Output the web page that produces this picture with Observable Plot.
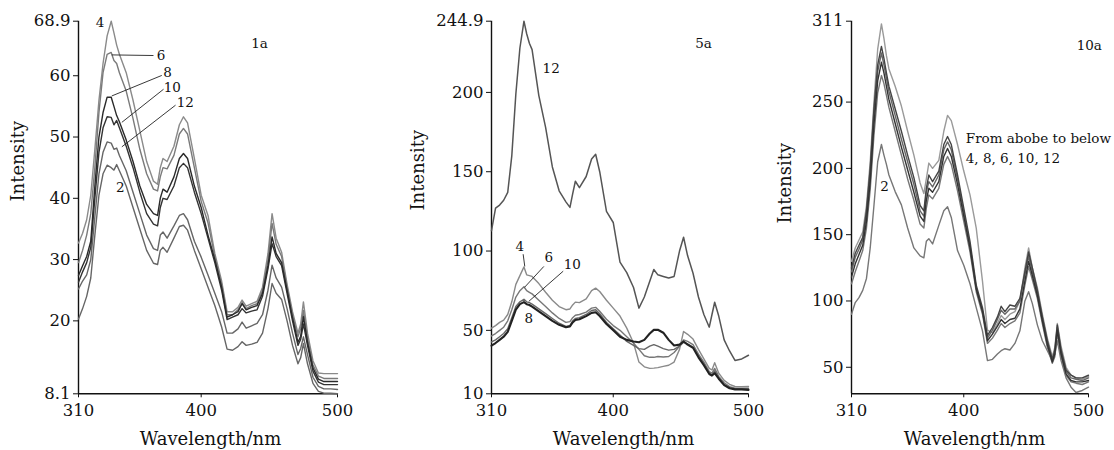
<!DOCTYPE html>
<html><head><meta charset="utf-8">
<script src="https://cdn.jsdelivr.net/npm/d3@7"></script>
<script src="https://cdn.jsdelivr.net/npm/@observablehq/plot@0.6"></script>
<style>
body{margin:0;background:#fff;}
#wrap{position:relative;width:1114px;height:450px;overflow:hidden;background:#fff;}
#wrap svg{position:absolute;top:0;}
</style></head><body><div id="wrap"></div>
<script>
// Shared wavelength grid (nm)
const wavelength = [310,313,316,319,322,325,328,331,334,336,338,340,345,350,355,360,365,368,370,372,375,380,384,387,390,395,400,405,410,415,419,423,427,430,433,437,441,445,449,452,455,459,463,467,471,473,475,478,482,486,490,495,500];

// Panel 1a
const p1_4  = [32.7,34.3,36.5,40.5,48,56,62,66.5,68.9,67,65,63.5,60.5,56,51,46,42.8,42.3,45,46.5,46,48.5,52,53.3,52.3,46.5,40.5,37.2,31,26.5,21.5,21.5,22.2,23.4,22.4,22.8,23.2,25.5,31,37.5,33.5,31.2,26,21.5,18,19.5,23.1,18,13.5,11.5,11.4,11.4,11.4];
const p1_6  = [29.5,31.5,34,37.5,45,54,60.5,63.5,63.8,62.5,62,60.5,57.5,53,48,44,41.5,41.2,43.5,45,44.8,47,50.5,51.4,50.5,45,39.5,36,30.5,26,21,21,21.8,23,22,22.5,22.8,25,30,35.9,32.5,30.5,25.5,21,17.4,18.8,21.7,17.2,12.8,11,10.6,10.6,10.6];
const p1_8  = [27.4,29,30.5,33,42,50,54,56.5,56.5,55,53.5,52.5,49.5,46,42,39,37.5,37.2,40,41.5,41,43.5,46.5,47.3,46.5,42,38.5,34,30,25.5,20.6,21,21.5,22.8,21.8,22.2,22.5,24.5,29,33.7,31,29.5,25,20.5,16.5,17.5,20.7,16.5,12.3,10.5,10.1,10.1,10.1];
const p1_10 = [26.3,28,29.5,32,40,47.5,51.5,53.3,53.2,52,52.7,51.5,48.5,45,41,37.5,35.8,35.5,38.5,40,39.8,42,45,45.7,45,41,37.5,33.5,29.5,25,20.2,20.6,21,22,21.3,21.6,21.8,24,28.5,32.6,30.5,29,24.5,20,16,17,19.5,16,11.8,10,9.6,9.6,9.6];
const p1_12 = [25.2,26.5,27.5,30,37,44,47.5,49.2,49,48,48.2,47,44.5,41,37.5,34,31.8,31.5,34,34.5,33.5,35.5,37.2,37.5,36.5,33,30.4,27.5,24.5,21.5,18,18,18.7,19.8,18.8,19.2,19.6,21,25,29.1,27,25.5,22,18,14.5,15.5,17.4,14.5,10.8,9.3,8.9,8.9,8.8];
const p1_2  = [20.3,22,24,27,34,40.5,44,45.4,45,44.6,45.5,44.5,42,38.5,35,31.5,29.4,29.2,31.5,32,31.2,33.5,35.4,35.6,34.8,31.5,28.5,25.5,22.5,19,15.4,15.2,15.8,16.6,16,16.2,16.5,18,22,26.1,24.5,23.5,20,16,13,14,16.3,13,9.8,8.5,8.2,8.2,8.1];

// Panel 5a
const p2_12 = [112.8,127,129,132,137,160,199,228,244.9,237,231,227,198,178,153,138,131,127.5,136,144,140,147,158,161,150,125,118,93,86.4,77,64,71,81,88.4,85,84,83,84,100,108.7,97,86,71,60,52,60,67.7,59,44,37,31,32,34.3];
const p2_4  = [51.4,53,55,56.5,60,68,79,84.5,90,85,84.5,84,79.5,74,69,65,63,63.5,66,67.8,67.5,69.8,75,76.6,74.5,69,64,59,51.4,42,30,27,26,26.2,26.5,27.3,28,30,38,49.3,47.5,44.5,38,32,26,25,29.6,23,18.5,16,14.6,14.5,14.6];
const p2_6  = [46.5,48,50,52,56,63,71,75,77.5,75,74,73,69,65,61,57.5,55,55.5,58,59.5,60,61.5,64,64.5,62,57,53,50,46,42,38,34,33,33,33.5,33.2,33.5,36,40,44,43,41,35,30,24,23,26,21,17,14.5,13.5,13.5,13.5];
const p2_10 = [42.7,44,46,48,51,58,65,68,69.6,68,67.5,66.5,63.5,60.5,57.5,54.5,52.5,53,56,57.5,58,60,62.5,63,60.5,55,51,47,43,40.5,38.5,38,40,41,40,38.5,37.5,38,40,42.5,41.5,39.5,34,29,23,22,24.5,20,16,13.8,13,13,13];
const p2_8  = [40.4,42,44,46,49,56,63,66.5,67.8,66.5,66,65,62,59,56,53.5,52,52.5,55,56.5,57,59,61,61.4,59,54,50,46,44,43,42.5,44,48,50.3,50.4,48.5,44,40.5,41,43,41,39,33,28,22.5,21.5,23,19.5,15.5,13.5,12.8,12.8,12.5];

// Panel 10a
const p3_4  = [130,140,146,152,172,205,250,290,309,298,285,275,262,247,228,210,189,181,192,204,200,206,228,240,236,218,198,180,155,115,78,76,83,89,86,90,92,100,125,140,125,110,90,72,58,65,83,66,50,44,42,41,43];
const p3_8  = [125,136,142,148,168,200,245,278,292,283,272,262,245,228,210,193,172,168,185,195,190,198,218,224,218,195,170,145,112,95,74,80,88,96,92,97,96,102,122,137,125,108,88,70,56,63,82,63,48,44,42,42,44];
const p3_6  = [122,133,139,146,165,196,240,273,287,278,268,258,240,222,205,188,168,164,182,190,186,195,214,220,214,192,167,142,110,93,72,78,86,93,90,94,94,100,120,134,122,106,87,69,55,61,80,62,47,42,41,40,42];
const p3_10 = [118,128,135,142,160,190,233,266,280,272,262,252,234,216,199,182,164,160,176,185,182,190,209,215,209,188,164,140,109,92,70,75,81,86,83,86,87,94,115,130,119,104,85,67,54,60,78,60,45,40,39,39,40];
const p3_12 = [113,122,130,138,155,184,225,257,270,264,255,246,228,210,192,176,158,155,170,180,177,185,203,209,203,183,160,137,107,90,68,72,78,83,80,83,85,91,112,126,116,102,83,65,53,58,76,58,44,39,38,37,39];
const p3_2  = [90,98.8,102.5,108,117,140,172,205,218,210,203,195,182.5,172.5,155,140,134,132.5,145,147,143,157,168,171,163,138,127,113,95,77.5,55,56,60,62.5,64,63,68,77.5,100,107,98,82,70,62.5,55,60,70,55,42,35,31,32.5,35];

const xTicks = [310, 400, 500];
const yTicks1 = [8.1, 20, 30, 40, 50, 60, 68.9];
const yTicks2 = [10, 50, 100, 150, 200, 244.9];
const yTicks3 = [50, 100, 150, 200, 250, 311];

const FONT = "DejaVu Serif";

function toRows(vals){ return wavelength.map((w,i)=>({w, v: vals[i]})); }

function panel(cfg){
  const marks = [
    Plot.axisX({ticks: xTicks, tickSize: 4, tickPadding: 6, label: null, fontSize: 16.5, tickFormat: d=>String(d)}),
    Plot.axisY({ticks: cfg.yTicks, tickSize: 5, tickPadding: 3, label: null, fontSize: 16.5, tickFormat: d=>String(d)}),
    Plot.ruleX([310], {stroke: "#111", strokeWidth: 1.4}),
    Plot.ruleY([cfg.yDomain[0]], {stroke: "#111", strokeWidth: 1.4}),
  ];
  for (const s of cfg.series) {
    marks.push(Plot.line(toRows(s.values), {x: "w", y: "v", stroke: s.color, strokeWidth: s.width || 1.4}));
  }
  if (cfg.leaders) marks.push(Plot.link(cfg.leaders, {x1: "x1", y1: "y1", x2: "x2", y2: "y2", stroke: "#222", strokeWidth: 0.9}));
  marks.push(Plot.text(cfg.labels, {x: "x", y: "y", text: "t", fontSize: 13.5, fill: "#111", textAnchor: "middle"}));
  if (cfg.notes) marks.push(Plot.text(cfg.notes, {x: "x", y: "y", text: "t", fontSize: 13.5, fill: "#111", textAnchor: "start"}));
  marks.push(Plot.text([cfg.tag], {x: "x", y: "y", text: "t", fontSize: 13.5, fill: "#111"}));
  marks.push(Plot.text(["Intensity"], {frameAnchor: "left", rotate: -90, dx: cfg.ylx, dy: cfg.yly, fontSize: 18, fill: "#111"}));
  marks.push(Plot.text(["Wavelength/nm"], {frameAnchor: "bottom", dx: cfg.xlx, dy: 51, fontSize: 18, fill: "#111"}));
  const svg = Plot.plot({
    width: cfg.width, height: 450,
    marginLeft: cfg.ml, marginRight: cfg.mr, marginTop: 20.7, marginBottom: 56.7,
    x: {domain: [310, 500]},
    y: {domain: cfg.yDomain},
    style: {fontFamily: FONT, fontSize: "16px", color: "#111", background: "transparent", overflow: "visible"},
    marks
  });
  svg.style.left = cfg.left + "px";
  document.getElementById("wrap").appendChild(svg);
}

panel({
  left: 0, width: 372, ml: 78, mr: 35, yDomain: [8.1, 68.9], yTicks: yTicks1,
  ylx: -60, yly: -6, xlx: 2.5,
  series: [
    {values: p1_4, color: "#8a8a8a"},
    {values: p1_6, color: "#7a7a7a"},
    {values: p1_12, color: "#666"},
    {values: p1_2, color: "#666"},
    {values: p1_10, color: "#333"},
    {values: p1_8, color: "#2a2a2a"},
  ],
  labels: [
    {x: 325.8, y: 68.7, t: "4"}, {x: 370.5, y: 63.3, t: "6"}, {x: 375.3, y: 60.5, t: "8"},
    {x: 378.8, y: 58.1, t: "10"}, {x: 388.3, y: 55.6, t: "12"}, {x: 340.6, y: 41.8, t: "2"}
  ],
  leaders: [
    {x1: 334.4, y1: 63.4, x2: 365, y2: 63.3},
    {x1: 334.4, y1: 56.7, x2: 371.1, y2: 60.05},
    {x1: 341.8, y1: 52.4, x2: 372.4, y2: 57.8},
    {x1: 341.8, y1: 48.4, x2: 381.2, y2: 55.2}
  ],
  tag: {x: 442.8, y: 65.3, t: "1a"}
});

panel({
  left: 372, width: 400, ml: 119, mr: 24, yDomain: [10, 244.9], yTicks: yTicks2,
  ylx: -73, yly: 3, xlx: 3.5,
  series: [
    {values: p2_12, color: "#555", width: 1.5},
    {values: p2_4, color: "#8a8a8a"},
    {values: p2_6, color: "#777"},
    {values: p2_10, color: "#666"},
    {values: p2_8, color: "#222", width: 2.1},
  ],
  labels: [
    {x: 354.1, y: 215, t: "12"}, {x: 330.9, y: 103, t: "4"}, {x: 352.4, y: 95.7, t: "6"},
    {x: 369.7, y: 91.2, t: "10"}, {x: 337.6, y: 57.6, t: "8"}
  ],
  leaders: [
    {x1: 333.4, y1: 98, x2: 334.6, y2: 90.3},
    {x1: 334.4, y1: 77.1, x2: 348.7, y2: 90.3},
    {x1: 337.6, y1: 68.3, x2: 363, y2: 87.3}
  ],
  tag: {x: 466.7, y: 231, t: "5a"}
});

panel({
  left: 772, width: 342, ml: 79, mr: 26, yDomain: [30, 311], yTicks: yTicks3,
  ylx: -66, yly: 16, xlx: 4.5,
  series: [
    {values: p3_4, color: "#9a9a9a"},
    {values: p3_12, color: "#777"},
    {values: p3_6, color: "#666"},
    {values: p3_2, color: "#777"},
    {values: p3_8, color: "#444"},
    {values: p3_10, color: "#333"},
  ],
  labels: [{x: 336.5, y: 186.3, t: "2"}],
  notes: [
    {x: 401.6, y: 222.6, t: "From abobe to below"},
    {x: 401.6, y: 207.5, t: "4, 8, 6, 10, 12"}
  ],
  tag: {x: 500.6, y: 292.8, t: "10a"}
});
</script></body></html>
